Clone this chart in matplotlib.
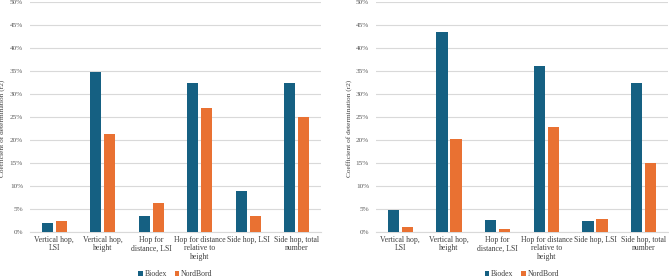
import numpy as np
import matplotlib
matplotlib.use("Agg")
import matplotlib.pyplot as plt
from matplotlib.ticker import PercentFormatter

plt.rcParams['font.family'] = ['Liberation Serif', 'DejaVu Serif']

categories = ["Vertical hop,\nLSI", "Vertical hop,\nheight", "Hop for\ndistance, LSI",
              "Hop for distance\nrelative to\nheight", "Side hop, LSI", "Side hop, total\nnumber"]

# left panel
biodex_left = [2.0, 34.8, 3.5, 32.4, 9.0, 32.4]
nordbord_left = [2.3, 21.2, 6.2, 27.0, 3.5, 25.0]

# right panel
biodex_right = [4.7, 43.5, 2.6, 36.0, 2.3, 32.4]
nordbord_right = [1.0, 20.2, 0.7, 22.9, 2.8, 15.1]

BLUE = "#156082"
ORANGE = "#E97132"
GRID = "#D9D9D9"
TEXT = "#595959"


def draw_panel(ax, biodex, nordbord, label_x):
    x = np.arange(len(categories))
    w = 0.23
    ax.bar(x - 0.145, biodex, w, color=BLUE, label="Biodex", zorder=3)
    ax.bar(x + 0.145, nordbord, w, color=ORANGE, label="NordBord", zorder=3)
    ax.set_xlim(-0.5, len(categories) - 0.5)
    ax.set_ylim(0, 50)
    ax.set_yticks(np.arange(0, 51, 5))
    ax.yaxis.set_major_formatter(PercentFormatter(decimals=0))
    ax.grid(axis='y', color=GRID, linewidth=0.8, zorder=0)
    for s in ['top', 'right', 'left']:
        ax.spines[s].set_visible(False)
    ax.spines['bottom'].set_color(GRID)
    ax.tick_params(axis='y', length=0, labelsize=5.2, colors=TEXT, pad=5)
    ax.tick_params(axis='x', length=0, labelsize=5.6, colors="#404040", pad=3)
    ax.set_xticks(x)
    ax.set_xticklabels(categories, linespacing=1.05, va='top')
    ax.set_ylabel("Coefficient of determination (r2)", fontsize=5.3, color="#404040")
    ax.yaxis.set_label_coords(label_x, 0.45)
    ax.legend(loc='center', bbox_to_anchor=(0.5, -0.183), ncol=2, frameon=False,
              fontsize=5.6, handlelength=0.55, handleheight=0.55, columnspacing=1.0,
              handletextpad=0.25, labelcolor="#404040", borderpad=0.1)


fig = plt.figure(figsize=(6.69, 2.77), dpi=100)
ax1 = fig.add_axes([30 / 669, 45 / 277, 291 / 669, 230 / 277])
ax2 = fig.add_axes([376 / 669, 45 / 277, 292 / 669, 230 / 277])
draw_panel(ax1, biodex_left, nordbord_left, -0.085)
draw_panel(ax2, biodex_right, nordbord_right, -0.082)

fig.savefig("out.png", dpi=100)
